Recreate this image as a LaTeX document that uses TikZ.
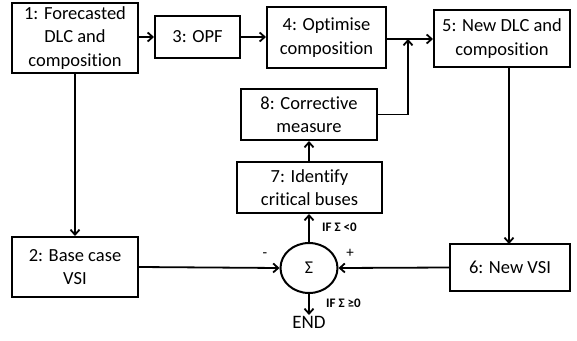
\documentclass[tikz,border=0pt]{standalone}
\usepackage{fontspec}
\setmainfont{Carlito}[Ligatures=NoCommon]
\usetikzlibrary{arrows.meta,shapes.geometric}
\begin{document}
\begin{tikzpicture}[x=1pt,y=-1pt,
  box/.style={draw,line width=2pt,align=center,inner sep=1pt,
    font=\fontsize{18.5}{23.5}\selectfont},
  arr/.style={line width=1.8pt,-{Straight Barb[length=5pt,width=9pt,line width=1.8pt]}},
  lbl/.style={font=\fontsize{13}{15}\selectfont\bfseries,inner sep=0pt}]
\useasboundingbox (0,0) rectangle (577,340);
\node[box,minimum width=126pt,minimum height=70pt] (b1) at (75,38) {1: Forecasted\\DLC and\\composition};
\node[box,minimum width=85pt,minimum height=42pt] (b3) at (197.5,37) {3: OPF};
\node[box,minimum width=119pt,minimum height=61pt] (b4) at (326.5,37.5) {4: Optimise\\composition};
\node[box,minimum width=136pt,minimum height=57pt] (b5) at (502,38.5) {5: New DLC and\\composition};
\node[box,minimum width=136pt,minimum height=51pt] (b8) at (309,114.5) {8: Corrective\\measure};
\node[box,minimum width=145pt,minimum height=51pt] (b7) at (309.5,187.5) {7: Identify\\critical buses};
\node[box,minimum width=126pt,minimum height=60pt] (b2) at (75,267) {2: Base case\\VSI};
\node[box,minimum width=120pt,minimum height=47pt] (b6) at (510,267.5) {6: New VSI};
\node[draw,ellipse,line width=2pt,minimum width=57pt,minimum height=50pt,inner sep=0pt,
  font=\fontsize{18}{20}\selectfont] (s) at (309,268) {Σ};
\node[font=\fontsize{19}{22}\selectfont,inner sep=1pt,anchor=north] (end) at (309,315) {END};
\coordinate (jn) at (408,39);
\coordinate (c5) at (509,67);
\coordinate (c6) at (509,244);
\node[lbl,anchor=west] (l1) at (322,227) {IF Σ <0};
\node[lbl,anchor=west] (l2) at (326,303) {IF Σ ≥0};
\node[font=\fontsize{15}{16}\selectfont,inner sep=0pt] (mn) at (265,255) {-};
\node[font=\fontsize{15}{16}\selectfont,inner sep=0pt] (pl) at (350,253) {+};
\draw[arr] (b1.east |- b3.west) -- (b3.west);
\draw[arr] (b3.east) -- (b4.west |- b3.east);
\draw[arr] (b4.east |- jn) -- (b5.west |- jn);
\draw[arr] (b8.east) -| (jn);
\draw[arr] (b1.south) -- (b2.north);
\draw[arr] (c5) -- (c6);
\draw[arr] (b7.north -| b8.south) -- (b8.south);
\draw[arr] (s.north) -- (s.north |- b7.south);
\draw[arr] (s.south) -- (end.north);
\draw[arr] (b2.east) -- (s.west);
\draw[arr] (b6.west) -- (s.east);
\end{tikzpicture}
\end{document}
